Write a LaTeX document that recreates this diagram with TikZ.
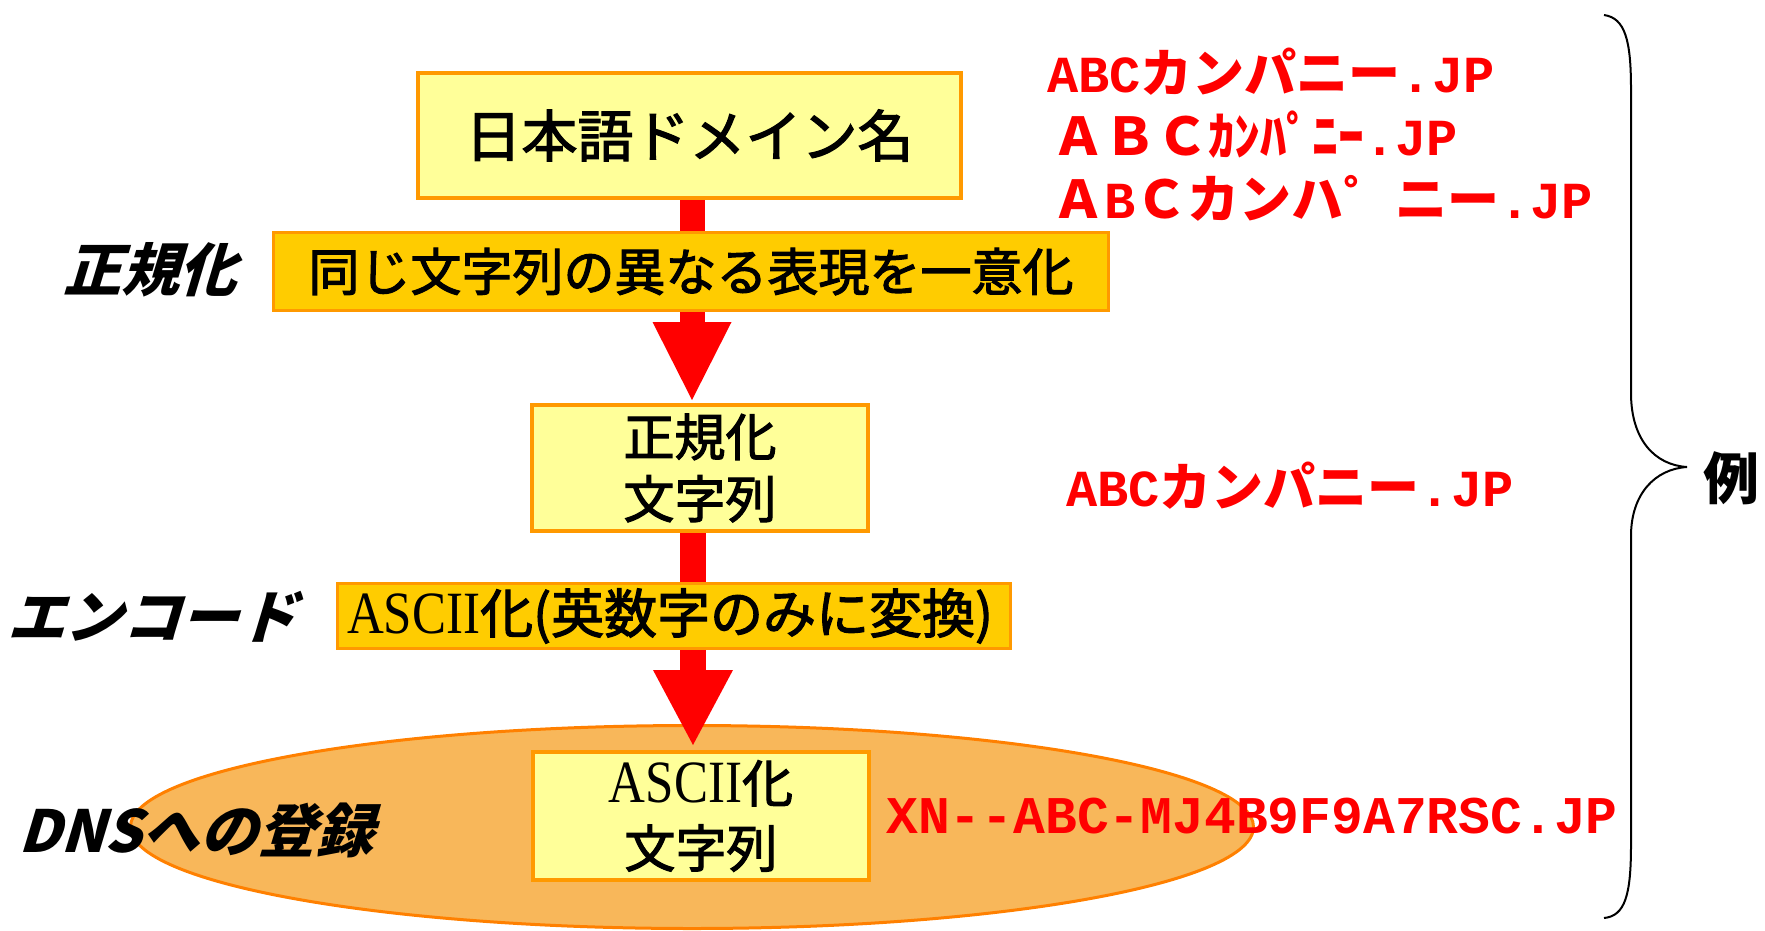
\documentclass[tikz,border=0pt]{standalone}
\usepackage{fontspec}
\usepackage{graphicx}
\usetikzlibrary{calc,shapes.geometric}
\newfontfamily\jpf{Noto Sans CJK JP}
\newfontfamily\jpbox{Noto Sans CJK JP}[FakeBold=2.2]
\newfontfamily\jpsl{Noto Sans CJK JP}[FakeSlant=0.3]
\newfontfamily\courf{Liberation Mono}
\newfontfamily\tmsf{Liberation Serif}
\newcommand\fsz[2]{\fontsize{#1pt}{#2pt}\selectfont}
\newcommand\asc[1]{{\tmsf\fsz{60}{62}\scalebox{0.85}[1]{#1}}}
\newcommand\ctt[1]{{\courf\bfseries #1}}
\definecolor{lyel}{HTML}{FFFF99}
\definecolor{bord}{HTML}{FF9900}
\definecolor{gold}{HTML}{FFCC00}
\definecolor{ellfill}{HTML}{F8B75A}
\definecolor{ellbord}{HTML}{FF8000}
\pgfdeclarelayer{ellayer}
\pgfdeclarelayer{arrlayer}
\pgfsetlayers{ellayer,arrlayer,main}
\begin{document}
\begin{tikzpicture}[x=1pt,y=-1pt,
  ybox/.style={draw=bord, fill=lyel, line width=4pt, inner sep=0pt, align=center},
  gbox/.style={draw=bord, fill=gold, line width=3pt, inner sep=0pt, align=center},
  lbl/.style={inner sep=0pt, font=\jpsl\bfseries\fsz{58}{62}},
  ex/.style={inner sep=0pt, anchor=west, text=red},
  shaft/.style={draw=red, line width=#1}
]
\useasboundingbox (0,0) rectangle (1765,930);
% boxes
\node[ybox, minimum width=543pt, minimum height=125pt, font=\jpbox\fsz{56}{60}] (top) at (689.5,135.5) {日本語ドメイン名};
\node[gbox, minimum width=835pt, minimum height=78pt, font=\jpbox\fsz{51}{56}] (band1) at (691,271.5) {同じ文字列の異なる表現を一意化};
\node[ybox, minimum width=336pt, minimum height=126pt, font=\jpbox\fsz{51}{62}] (box2) at (700,468) {正規化\\文字列};
\node[gbox, minimum width=673pt, minimum height=65pt, font=\jpbox\fsz{53}{56}] (band2) at (674,616) {\hspace*{-8pt}\asc{ASCII}化(英数字のみに変換)};
\node[ybox, minimum width=336pt, minimum height=128pt, font=\jpbox\fsz{51}{65}] (box3) at (701,816) {\asc{ASCII}化\\文字列};
% ellipse
\begin{pgfonlayer}{ellayer}
\node[ellipse, draw=ellbord, fill=ellfill, line width=3pt, minimum width=1123pt, minimum height=203pt] (reg) at (692,827) {};
\end{pgfonlayer}
% arrows
\coordinate (t1) at (692,400);
\coordinate (t2) at (693,745);
\begin{pgfonlayer}{arrlayer}
\draw[shaft=25pt] (t1 |- top.south) -- ($(t1)+(0,-77)$);
\fill[red] (t1) -- ++(-39.5,-78) -- ++(79,0) -- cycle;
\draw[shaft=26pt] (t2 |- box2.south) -- ($(t2)+(0,-74)$);
\fill[red] (t2) -- ++(-40,-75) -- ++(80,0) -- cycle;
\end{pgfonlayer}
% left labels
\node[lbl] (l1) at (150,270) {正規化};
\node[lbl] (l2) at (152,617) {エンコード};
\node[lbl] (l3) at (196,830) {DNSへの登録};
% examples
\node[ex, font=\jpf\bfseries\fsz{52}{56}] (e1) at (1047,72) {\ctt{ABC}カンパニー\ctt{.JP}};
\node[ex, font=\jpf\bfseries\fsz{52}{56}] (e2) at (1052,135) {ＡＢＣｶﾝﾊﾟﾆｰ\ctt{.JP}};
\node[ex, font=\jpf\bfseries\fsz{52}{56}] (e3) at (1052,198) {Ａ\ctt{B}Ｃカンハ゜ニー\ctt{.JP}};
\node[ex, font=\jpf\bfseries\fsz{52}{56}] (e4) at (1066,486) {\ctt{ABC}カンパニー\ctt{.JP}};
\node[ex, font=\jpf\bfseries\fsz{53}{56}] (e5) at (886,816) {\ctt{XN--ABC-MJ4B9F9A7RSC.JP}};
% brace
\coordinate (bt) at (1604,15);
\coordinate (btip) at (1687,467);
\coordinate (bb) at (1604,918);
\draw[line width=2pt, black] (bt) .. controls (1625,18) and (1631,40) .. (1631,89)
  -- (1631,393) .. controls (1631,440) and (1655,465) .. (btip)
  .. controls (1655,469) and (1631,494) .. (1631,536)
  -- (1631,845) .. controls (1631,895) and (1625,916) .. (bb);
\node[inner sep=0pt, font=\jpf\bfseries\fsz{56}{60}] (rei) at (1731,478) {例};
\end{tikzpicture}
\end{document}
